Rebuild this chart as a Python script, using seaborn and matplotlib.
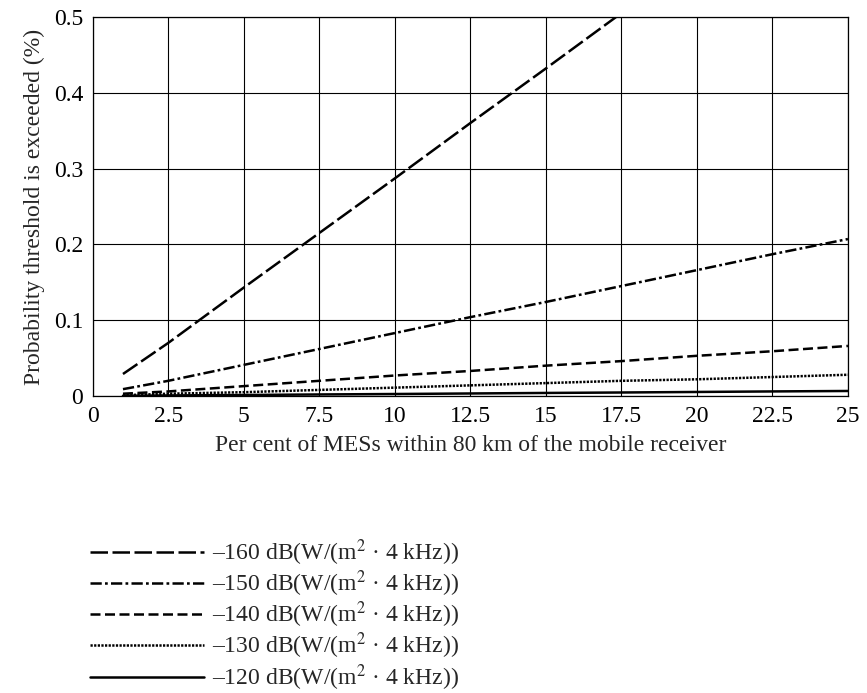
import matplotlib
matplotlib.use("Agg")
import matplotlib.pyplot as plt
import numpy as np
import pandas as pd
import seaborn as sns

sns.set_theme(style="white")
plt.rcParams['font.family'] = ['Liberation Serif', 'DejaVu Serif']
plt.rcParams['mathtext.fontset'] = 'stix'

# per cent of MESs within 80 km
pct = [1, 2.5, 5, 7.5, 10, 12.5, 15, 17.5, 20, 22.5, 25]

# probability threshold is exceeded (%) per pfd level
p160 = [0.029, 0.070, 0.143, 0.215, 0.287, 0.360, 0.432, 0.505, None, None, None]
p150 = [0.009, 0.020, 0.041, 0.062, 0.083, 0.104, 0.124, 0.145, 0.166, 0.187, 0.207]
p140 = [0.003, 0.006, 0.013, 0.020, 0.027, 0.033, 0.040, 0.046, 0.053, 0.059, 0.066]
p130 = [0.001, 0.003, 0.005, 0.008, 0.011, 0.014, 0.017, 0.020, 0.022, 0.025, 0.028]
p120 = [0.0003, 0.0007, 0.0013, 0.002, 0.0026, 0.0033, 0.004, 0.0046, 0.0053, 0.006, 0.0066]

labels = ['–160 dB(W/(m$^2$ · 4 kHz))', '–150 dB(W/(m$^2$ · 4 kHz))',
          '–140 dB(W/(m$^2$ · 4 kHz))', '–130 dB(W/(m$^2$ · 4 kHz))',
          '–120 dB(W/(m$^2$ · 4 kHz))']
series = [p160, p150, p140, p130, p120]
styles = [(0, (7, 1.8)), (0, (4.5, 1.3, 1.1, 1.3)), (0, (4, 1.8)), (0, (0.9, 0.55)), '-']

fs = 17

fig = plt.figure(figsize=(8.67, 6.93), dpi=100)
ax = fig.add_axes([0.107, 0.4286, 0.871, 0.547])

for vals, lab, ls in zip(series, labels, styles):
    df = pd.DataFrame({'x': pct, 'y': vals}).dropna()
    sns.lineplot(data=df, x='x', y='y', ax=ax, color='black', linewidth=1.8,
                 linestyle=ls, label=lab, legend=False, clip_on=True)

ax.set_xlim(0, 25)
ax.set_ylim(0, 0.5)
ax.set_xticks(np.arange(0, 25.1, 2.5))
ax.set_xticklabels(['0', '2.5', '5', '7.5', '10', '12.5', '15', '17.5', '20', '22.5', '25'])
ax.set_yticks([0, 0.1, 0.2, 0.3, 0.4, 0.5])
ax.set_yticklabels(['0', '0.1', '0.2', '0.3', '0.4', '0.5'])
ax.grid(True, color='black', linewidth=0.8)
for s in ax.spines.values():
    s.set_color('black')
    s.set_linewidth(0.9)
ax.tick_params(length=0, labelsize=fs, colors='black', pad=7)
ax.set_xlabel('Per cent of MESs within 80 km of the mobile receiver', fontsize=fs, labelpad=6)
ax.set_ylabel('Probability threshold is exceeded (%)', fontsize=fs, labelpad=6)

handles, labs = ax.get_legend_handles_labels()
fig.legend(handles, labs, loc='upper left', bbox_to_anchor=(0.104, 0.225),
           frameon=False, fontsize=fs, handlelength=4.8, handletextpad=0.35,
           labelspacing=0.03, borderaxespad=0, borderpad=0)

fig.savefig('out.png', dpi=100)
